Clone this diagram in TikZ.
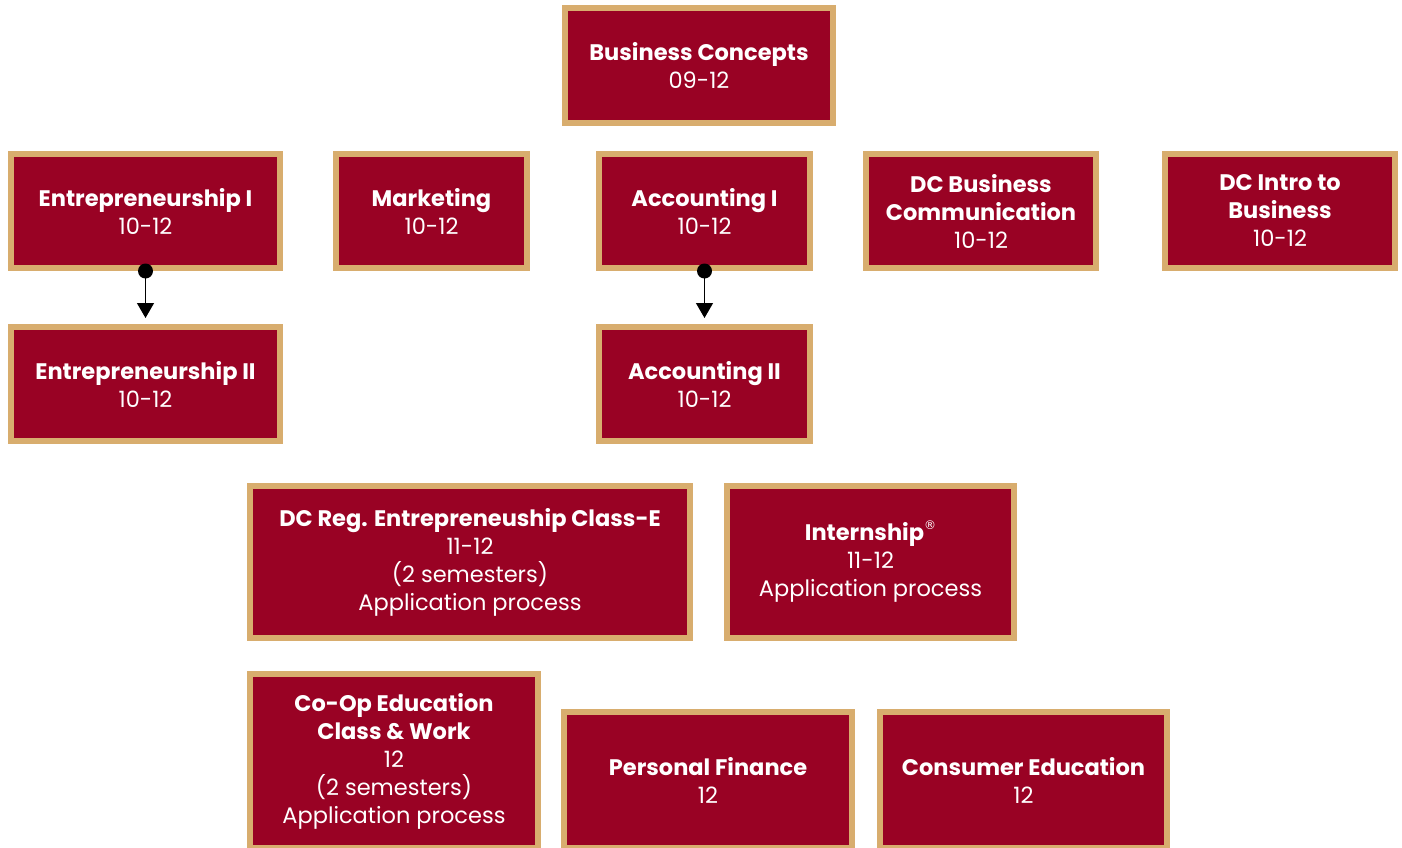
\documentclass[tikz,border=0pt]{standalone}
\usepackage{fontspec}
\setmainfont{Poppins}
\newfontfamily\regfont{DejaVu Sans}
\usetikzlibrary{arrows.meta}
\definecolor{maroon}{RGB}{153,2,36}
\definecolor{gold}{RGB}{216,173,110}
\tikzset{
  coursebox/.style={fill=maroon, draw=gold, line width=6pt, text=white,
    align=center, inner sep=0pt, font=\fontsize{22.5}{28}\selectfont},
  prereq/.style={line width=1.3pt, -{Triangle[width=17pt,length=15pt]}, shorten >=6pt}
}
\newcommand{\ttl}[1]{\textbf{#1}}
\newcommand{\regmark}{\raisebox{0.9ex}{\regfont\fontsize{12}{12}\selectfont ®}}
\begin{document}
\begin{tikzpicture}[x=1pt,y=-1pt]
    \useasboundingbox (0,0) rectangle (1402,848);
    \clip (0,0) rectangle (1402,848);
    % top
    \node[coursebox, minimum width=268pt, minimum height=115pt] (bc) at (699,65.5) {\ttl{Business Concepts}\\09-12};
    % second row
    \node[coursebox, minimum width=269pt, minimum height=114pt] (ent1) at (145.5,211) {\ttl{Entrepreneurship I}\\10-12};
    \node[coursebox, minimum width=191pt, minimum height=114pt] (mkt) at (431.5,211) {\ttl{Marketing}\\10-12};
    \node[coursebox, minimum width=211pt, minimum height=114pt] (acc1) at (704.5,211) {\ttl{Accounting I}\\10-12};
    \node[coursebox, minimum width=230pt, minimum height=114pt] (dcbc) at (981,211) {\ttl{DC Business}\\\ttl{Communication}\\10-12};
    \node[coursebox, minimum width=230pt, minimum height=114pt] (dcib) at (1280,211) {\ttl{DC Intro to}\\\ttl{Business}\\10-12};
    % third row
    \node[coursebox, minimum width=269pt, minimum height=114pt] (ent2) at (145.5,384) {\ttl{Entrepreneurship II}\\10-12};
    \node[coursebox, minimum width=211pt, minimum height=114pt] (acc2) at (704.5,384) {\ttl{Accounting II}\\10-12};
    % application courses
    \node[coursebox, minimum width=440pt, minimum height=152pt] (dcreg) at (470,562) {\ttl{DC Reg. Entrepreneuship Class-E}\\11-12\\(2 semesters)\\Application process};
    \node[coursebox, minimum width=287pt, minimum height=152pt] (intern) at (870.5,562) {\ttl{Internship}\regmark\\11-12\\Application process};
    % bottom row
    \node[coursebox, minimum width=288pt, minimum height=174pt] (coop) at (394,761) {\ttl{Co-Op Education}\\\ttl{Class \& Work}\\12\\(2 semesters)\\Application process};
    \node[coursebox, minimum width=288pt, minimum height=136pt] (pf) at (708,780) {\ttl{Personal Finance}\\12};
    \node[coursebox, minimum width=287pt, minimum height=136pt] (ce) at (1023.5,780) {\ttl{Consumer Education}\\12};
    % sequences
    \fill (ent1.south) circle (7.5pt);
    \draw[prereq] (ent1.south) -- (ent2.north);
    \fill (acc1.south) circle (7.5pt);
    \draw[prereq] (acc1.south) -- (acc2.north);
\end{tikzpicture}
\end{document}
